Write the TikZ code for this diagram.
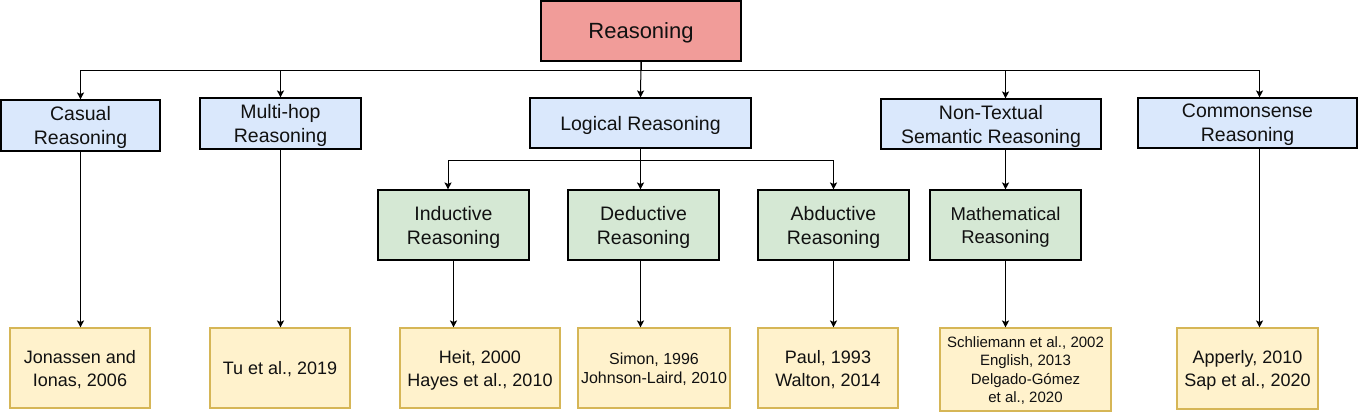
\documentclass[tikz,border=0pt]{standalone}
\usepackage{fontspec}
\setmainfont{Liberation Sans}
\usetikzlibrary{arrows.meta,calc}
\definecolor{redf}{HTML}{F19C99}
\definecolor{bluef}{HTML}{DAE8FC}
\definecolor{greenf}{HTML}{D5E8D4}
\definecolor{yelf}{HTML}{FFF2CC}
\definecolor{yeld}{HTML}{D6B656}
\definecolor{txt}{HTML}{111111}
\begin{document}
\begin{tikzpicture}[x=1pt,y=-1pt,
  box/.style={draw=black, line width=1.1pt, inner sep=0pt, align=center, text=txt, text depth=0pt},
  rootbox/.style={box, fill=redf, font=\fontsize{22}{26}\selectfont},
  catbox/.style={box, fill=bluef, font=\fontsize{19.5}{24}\selectfont},
  subbox/.style={box, fill=greenf, font=\fontsize{19.5}{24}\selectfont},
  citebox/.style={box, draw=yeld, fill=yelf, font=\fontsize{18}{23}\selectfont},
  arr/.style={draw=black, line width=1pt, -{Stealth[length=7pt,width=7pt,inset=1.5pt]}},
]
\useasboundingbox (0,0) rectangle (1358,412);

% root
\node[rootbox, minimum width=200pt, minimum height=60pt] (root) at (641,31) {Reasoning};

% level 2
\node[catbox, minimum width=159pt, minimum height=51pt] (casual) at (80.5,125.5) {Casual\\Reasoning};
\node[catbox, minimum width=161pt, minimum height=51pt] (multi) at (280.5,123.5) {Multi-hop\\Reasoning};
\node[catbox, minimum width=221pt, minimum height=50pt] (logical) at (640.5,123) {Logical Reasoning};
\node[catbox, minimum width=220pt, minimum height=50pt] (nt) at (991,124) {Non-Textual\\Semantic Reasoning};
\node[catbox, minimum width=219pt, minimum height=50pt] (cs) at (1247.5,123) {Commonsense\\Reasoning};

% level 3
\node[subbox, minimum width=151pt, minimum height=70pt] (ind) at (453.5,225) {Inductive\\Reasoning};
\node[subbox, minimum width=151pt, minimum height=70pt] (ded) at (643.5,225) {Deductive\\Reasoning};
\node[subbox, minimum width=151pt, minimum height=70pt] (abd) at (833.5,225) {Abductive\\Reasoning};
\node[subbox, minimum width=151pt, minimum height=70pt, font=\fontsize{18.5}{23}\selectfont] (math) at (1005.5,225) {Mathematical\\Reasoning};

% citations
\node[citebox, minimum width=140pt, minimum height=80pt] (jon) at (80,368) {Jonassen and\\Ionas, 2006};
\node[citebox, minimum width=140pt, minimum height=80pt] (tu) at (280,368) {Tu et al., 2019};
\node[citebox, minimum width=160pt, minimum height=80pt] (heit) at (480,368) {Heit, 2000\\Hayes et al., 2010};
\node[citebox, minimum width=152pt, minimum height=80pt, font=\fontsize{16}{19.5}\selectfont] (simon) at (654,368) {Simon, 1996\\Johnson-Laird, 2010};
\node[citebox, minimum width=140pt, minimum height=80pt] (paul) at (828,368) {Paul, 1993\\Walton, 2014};
\node[citebox, minimum width=171pt, minimum height=83pt, font=\fontsize{15}{18.3}\selectfont] (mcit) at (1025.5,369.5) {Schliemann et al., 2002\\English, 2013\\Delgado-Gómez\\et al., 2020};
\node[citebox, minimum width=141pt, minimum height=81pt] (ap) at (1247.5,368.5) {Apperly, 2010\\Sap et al., 2020};

% helper x positions
\coordinate (csx) at (1259.5,0);
\coordinate (indx) at (448,0);

% root to level 2
\draw[arr] (root.south) -- ++(0,9) -| (casual.north);
\draw[arr] (root.south) -- ++(0,9) -| (multi.north);
\draw[arr] (root.south) -- (logical.north);
\draw[arr] (root.south) -- ++(0,9) -| (nt.north -| math.north);
\draw[arr] (root.south) -- ++(0,9) -| (cs.north -| csx);

% logical to level 3
\draw[arr] (logical.south) -- ++(0,12) -| (ind.north -| indx);
\draw[arr] (logical.south) -- ++(0,12) -| (ded.north -| logical.south);
\draw[arr] (logical.south) -- ++(0,12) -| (abd.north);
\draw[arr] (nt.south -| math.north) -- (math.north);

% to citations
\draw[arr] (casual.south) -- (jon.north -| casual.south);
\draw[arr] (multi.south) -- (tu.north -| multi.south);
\draw[arr] (ind.south) -- (heit.north -| ind.south);
\draw[arr] (ded.south -| logical.south) -- (simon.north -| logical.south);
\draw[arr] (abd.south) -- (paul.north -| abd.south);
\draw[arr] (math.south) -- (mcit.north -| math.south);
\draw[arr] (cs.south -| csx) -- (ap.north -| csx);
\end{tikzpicture}
\end{document}
